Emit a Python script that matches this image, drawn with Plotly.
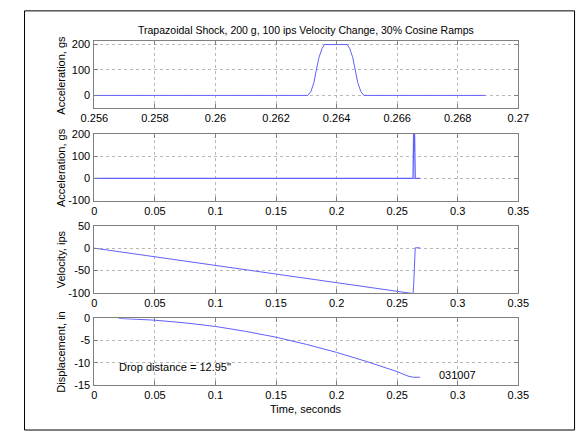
import plotly.graph_objects as go

# ---------------- data ----------------
# acceleration pulse (gs) vs time (s)
accel_t = [0.0, 0.26305, 0.26315, 0.26325, 0.26333, 0.26342, 0.26352, 0.2636,
           0.26435, 0.26443, 0.26453, 0.26462, 0.2647, 0.2648, 0.2649, 0.2689]
accel_g = [0, 0, 15, 50, 100, 150, 185, 200,
           200, 185, 150, 100, 50, 15, 0, 0]

# velocity (ips) vs time (s)
vel_t = [0.0, 0.2631, 0.2636, 0.2640, 0.2644, 0.2649, 0.2689]
vel_ips = [0, -101.5, -85, -50, -15, 0.8, 0.8]

# displacement (in) vs time (s)
disp_t = [0.02, 0.05, 0.075, 0.1, 0.125, 0.15, 0.175, 0.2, 0.225, 0.25,
          0.259, 0.2631, 0.2689]
disp_in = [-0.05, -0.45, -1.05, -1.85, -2.95, -4.25, -5.85, -7.65, -9.7, -11.95,
           -12.95, -13.2, -13.2]

title_text = "Trapazoidal Shock, 200 g, 100 ips Velocity Change, 30% Cosine Ramps"
ylabels = ["Acceleration, gs", "Acceleration, gs", "Velocity, ips", "Displacement, in"]
xlabel = "Time, seconds"
drop_note = "Drop distance = 12.95\""
id_note = "031007"

zoom_xticks = [0.256, 0.258, 0.26, 0.262, 0.264, 0.266, 0.268, 0.27]
zoom_xticktext = ["0.256", "0.258", "0.26", "0.262", "0.264", "0.266", "0.268", "0.27"]
full_xticks = [0, 0.05, 0.1, 0.15, 0.2, 0.25, 0.3, 0.35]
full_xticktext = ["0", "0.05", "0.1", "0.15", "0.2", "0.25", "0.3", "0.35"]
y1_ticks = [0, 100, 200]
y2_ticks = [-100, 0, 100, 200]
y3_ticks = [-100, -50, 0, 50]
y4_ticks = [-15, -10, -5, 0]

# ---------------- figure ----------------
W, H = 580, 437
FONT = "Liberation Sans, Arial, sans-serif"
LINE = "#6060ff"

def py(px):
    return 1 - px / H

xdom = [84 / W, 527 / W]
ydoms = [
    [py(105.0), py(36.5)],
    [py(200.0), py(131.5)],
    [py(295.0), py(226.0)],
    [py(390.0), py(321.0)],
]

fig = go.Figure()
fig.add_trace(go.Scatter(x=accel_t, y=accel_g, mode="lines", xaxis="x", yaxis="y",
                         line=dict(color=LINE, width=1), showlegend=False))
fig.add_trace(go.Scatter(x=accel_t, y=accel_g, mode="lines", xaxis="x2", yaxis="y2",
                         line=dict(color=LINE, width=1.3), showlegend=False))
fig.add_trace(go.Scatter(x=vel_t, y=vel_ips, mode="lines", xaxis="x3", yaxis="y3",
                         line=dict(color=LINE, width=1), showlegend=False))
fig.add_trace(go.Scatter(x=disp_t, y=disp_in, mode="lines", xaxis="x4", yaxis="y4",
                         line=dict(color=LINE, width=1), showlegend=False))

axis_common = dict(
    showline=True, linecolor="#808080", linewidth=1, mirror="ticks",
    ticks="inside", ticklen=4, tickcolor="#808080",
    showgrid=True, gridcolor="#b8b8b8", griddash="dot", gridwidth=1,
    zeroline=False, tickfont=dict(family=FONT, size=11, color="black"),
)

xranges = [[0.256, 0.27], [0, 0.35], [0, 0.35], [0, 0.35]]
yranges = [[-50, 212], [-100, 200], [-100, 50], [-15, 0]]
yticks = [y1_ticks, y2_ticks, y3_ticks, y4_ticks]

layout = dict(
    width=W, height=H, margin=dict(l=0, r=0, t=0, b=0),
    paper_bgcolor="white", plot_bgcolor="white", showlegend=False,
    font=dict(family=FONT, size=11, color="black"),
)
for i in range(4):
    xs = "xaxis" if i == 0 else f"xaxis{i+1}"
    ys = "yaxis" if i == 0 else f"yaxis{i+1}"
    xa = dict(axis_common, domain=xdom, range=xranges[i], anchor="y" if i == 0 else f"y{i+1}",
              ticklabelstandoff=0)
    if i == 0:
        xa.update(tickmode="array", tickvals=zoom_xticks, ticktext=zoom_xticktext)
    else:
        xa.update(tickmode="array", tickvals=full_xticks, ticktext=full_xticktext)
    ya = dict(axis_common, domain=ydoms[i], range=yranges[i],
              anchor="x" if i == 0 else f"x{i+1}", ticklabelstandoff=1,
              tickmode="array", tickvals=yticks[i], ticktext=[str(v) for v in yticks[i]])
    layout[xs] = xa
    layout[ys] = ya

fig.update_layout(**layout)

annotations = [
    dict(text=title_text, x=(xdom[0] + xdom[1]) / 2, y=py(25), xref="paper", yref="paper",
         showarrow=False, xanchor="center", yanchor="middle", font=dict(size=10.5)),
    dict(text=xlabel, x=(xdom[0] + xdom[1]) / 2, y=py(414), xref="paper", yref="paper",
         showarrow=False, xanchor="center", yanchor="middle", font=dict(size=11)),
    dict(text=drop_note, x=0.019, y=-10.8, xref="x4", yref="y4", showarrow=False,
         xanchor="left", yanchor="middle", font=dict(size=11)),
    dict(text=id_note, x=0.3, y=-12.8, xref="x4", yref="y4", showarrow=False,
         xanchor="center", yanchor="middle", font=dict(size=11)),
]
for i, lab in enumerate(ylabels):
    yc = (ydoms[i][0] + ydoms[i][1]) / 2
    annotations.append(dict(text=lab, x=49 / W, y=yc, xref="paper", yref="paper",
                            showarrow=False, textangle=-90, xanchor="center",
                            yanchor="middle", font=dict(size=11)))
fig.update_layout(annotations=annotations)

# figure frame (left/top/bottom visible; right edge at the page edge)
fig.add_shape(type="rect", xref="paper", yref="paper",
              x0=11 / W, x1=1.01, y0=py(436), y1=py(5),
              line=dict(color="black", width=1), fillcolor="rgba(0,0,0,0)", layer="above")

fig.write_html("out.html")
